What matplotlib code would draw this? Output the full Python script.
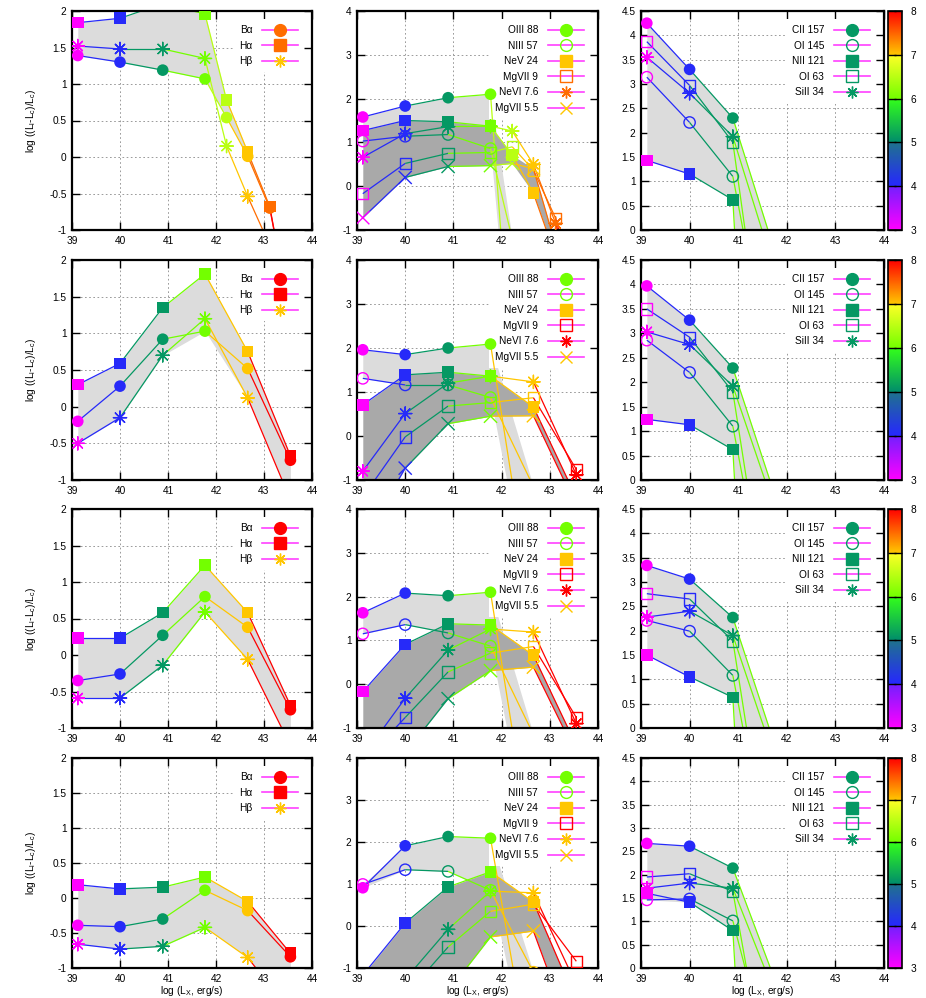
import numpy as np
import matplotlib
matplotlib.use('Agg')
import matplotlib.pyplot as plt
from matplotlib.collections import LineCollection
from matplotlib.colors import LinearSegmentedColormap, Normalize
from matplotlib.cm import ScalarMappable
from matplotlib.lines import Line2D

plt.rcParams['font.family'] = ['Liberation Sans', 'DejaVu Sans']
plt.rcParams['mathtext.default'] = 'regular'
plt.rcParams['axes.unicode_minus'] = False

# x positions (log Lx) and the colour value of each model point
x_r1 = [39.12, 40.0, 40.89, 41.77, 42.22, 42.66, 43.12, 43.55]
cb_r1 = [3.0, 4.05, 5.1, 6.0, 6.5, 7.0, 7.45, 8.0]
x_rest = [39.12, 40.0, 40.89, 41.77, 42.66, 43.55]
cb_rest = [3.0, 4.05, 5.1, 6.0, 7.0, 8.0]
x_fir = [39.12, 40.0, 40.89, 41.77]
cb_fir = [3.0, 4.05, 5.1, 6.0]

hyd_labels = ['B\u03b1', 'H\u03b1', 'H\u03b2']
mid_labels = ['OIII 88', 'NIII 57', 'NeV 24', 'MgVII 9', 'NeVI 7.6', 'MgVII 5.5']
fir_labels = ['CII 157', 'OI 145', 'NII 121', 'OI 63', 'SiII 34']

# hydrogen lines (Ba, Ha, Hb)
hyd_1 = [[1.39, 1.30, 1.19, 1.07, 0.54, 0.01, -0.70, -2.2],
         [1.84, 1.90, 2.10, 1.96, 0.78, 0.07, -0.68, -2.2],
         [1.52, 1.48, 1.48, 1.35, 0.15, -0.54, -1.21, -2.5]]
hyd_2 = [[-0.20, 0.28, 0.92, 1.03, 0.52, -0.73],
         [0.30, 0.59, 1.35, 1.81, 0.75, -0.67],
         [-0.50, -0.15, 0.70, 1.20, 0.12, -1.27]]
hyd_3 = [[-0.35, -0.26, 0.27, 0.80, 0.38, -0.75],
         [0.23, 0.23, 0.58, 1.23, 0.58, -0.69],
         [-0.59, -0.59, -0.14, 0.59, -0.06, -1.24]]
hyd_4 = [[-0.39, -0.41, -0.30, 0.11, -0.18, -0.84],
         [0.19, 0.13, 0.155, 0.30, -0.05, -0.79],
         [-0.66, -0.73, -0.69, -0.42, -0.85, -1.63]]

# mid-IR lines
mid_1 = [[1.58, 1.83, 2.02, 2.10, -4.5, -6.0, -7.0, -8.0],
         [1.03, 1.14, 1.18, 0.86, -1.2, -2.5, -3.5, -4.5],
         [1.27, 1.50, 1.47, 1.37, 0.71, -0.16, -1.6, -2.5],
         [-0.17, 0.52, 0.75, 0.77, 0.90, 0.37, -0.73, -2.5],
         [0.66, 1.20, 1.36, 1.37, 1.26, 0.50, -0.85, -2.5],
         [-0.72, 0.20, 0.45, 0.47, 0.52, 0.40, -1.35, -2.5]]
mid_2 = [[1.96, 1.85, 2.00, 2.09, -4.1, -6.0],
         [1.31, 1.16, 1.16, 0.875, -1.15, -3.0],
         [0.71, 1.39, 1.45, 1.36, 0.66, -1.4],
         [-1.39, -0.02, 0.68, 0.76, 0.87, -0.76],
         [-0.80, 0.51, 1.20, 1.36, 1.23, -0.88],
         [-2.4, -0.73, 0.28, 0.45, 0.46, -1.6]]
mid_3 = [[1.63, 2.08, 2.02, 2.10, -4.1, -6.0],
         [1.15, 1.36, 1.17, 0.87, -1.15, -3.0],
         [-0.17, 0.91, 1.38, 1.35, 0.66, -1.4],
         [-1.8, -0.76, 0.28, 0.71, 0.86, -0.76],
         [-1.65, -0.32, 0.78, 1.26, 1.19, -0.90],
         [-2.8, -1.57, -0.33, 0.31, 0.39, -1.6]]
mid_4 = [[0.91, 1.91, 2.13, 2.09, -3.8, -6.0],
         [0.99, 1.34, 1.30, 0.85, -1.1, -3.0],
         [-1.17, 0.07, 0.93, 1.29, 0.57, -1.8],
         [-3.0, -1.66, -0.50, 0.35, 0.52, -0.84],
         [-2.5, -1.27, -0.08, 0.83, 0.79, -1.4],
         [-4.0, -2.9, -1.56, -0.26, -0.12, -2.9]]

# far-IR lines
fir_1 = [[4.25, 3.30, 2.30, -0.5],
         [3.14, 2.21, 1.10, -3.5],
         [1.43, 1.15, 0.62, -15.0],
         [3.87, 2.97, 1.80, -4.5],
         [3.55, 2.81, 1.92, -0.9]]
fir_2 = [[3.97, 3.27, 2.29, -0.36],
         [2.86, 2.20, 1.10, -3.5],
         [1.24, 1.13, 0.62, -15.0],
         [3.50, 2.92, 1.80, -3.8],
         [3.03, 2.77, 1.92, -0.64]]
fir_3 = [[3.34, 3.06, 2.27, -0.4],
         [2.21, 1.99, 1.08, -3.5],
         [1.50, 1.05, 0.63, -15.0],
         [2.76, 2.65, 1.79, -3.8],
         [2.28, 2.40, 1.90, -0.7]]
fir_4 = [[2.67, 2.61, 2.14, -0.3],
         [1.46, 1.48, 1.01, -2.5],
         [1.60, 1.41, 0.80, -15.0],
         [1.95, 2.02, 1.64, -3.5],
         [1.71, 1.82, 1.71, -0.6]]

cmap = LinearSegmentedColormap.from_list('gp', [
    (0.0, (1.0, 0.0, 1.0)),
    (0.1999, (0.45, 0.12, 1.0)),
    (0.2, (0.15, 0.15, 1.0)),
    (0.3999, (0.12, 0.45, 0.55)),
    (0.4, (0.0, 0.55, 0.42)),
    (0.5999, (0.2, 1.0, 0.1)),
    (0.6, (0.45, 1.0, 0.0)),
    (0.7999, (1.0, 1.0, 0.15)),
    (0.8, (1.0, 0.78, 0.0)),
    (1.0, (1.0, 0.0, 0.0))], N=1024)
norm = Normalize(3, 8)

ASTER = (8, 2, 0)
hyd_marks = [('o', True), ('s', True), (ASTER, True)]
mid_marks = [('o', True), ('o', False), ('s', True), ('s', False), (ASTER, True), ('x', True)]
fir_marks = [('o', True), ('o', False), ('s', True), ('s', False), (ASTER, True)]

FS = 7.3
W, H = 926, 998


def draw_panel(ax, xs, cb, series, labels, marks, light, dark, ylim, yticks):
    xs = np.array(xs)
    cols = cmap(norm(np.array(cb)))
    data = np.array(series, dtype=float)
    if light:
        sub = data[light]
        ax.fill_between(xs, sub.min(0), sub.max(0), color='#dcdcdc', lw=0, zorder=1)
    if dark:
        sub = data[dark]
        ax.fill_between(xs, sub.min(0), sub.max(0), color='#a9a9a9', lw=0, zorder=1.1)
    handles = []
    for ys, lab, (m, filled) in zip(data, labels, marks):
        pts = np.column_stack([xs, ys])
        segs = np.stack([pts[:-1], pts[1:]], axis=1)
        ax.add_collection(LineCollection(segs, colors=cols[1:], lw=0.9, zorder=2))
        if m in ('o', 's'):
            if filled:
                ax.scatter(xs, ys, s=70, marker=m, c=cols, linewidths=0, zorder=3)
            else:
                ax.scatter(xs, ys, s=66, marker=m, facecolors='none', edgecolors=cols,
                           linewidths=1.0, zorder=3)
        else:
            ax.scatter(xs, ys, s=90, marker=m, c=cols, linewidths=1.0, zorder=3)
        # key point takes the colour of the last point inside the plot
        inside = [i for i, y in enumerate(ys) if ylim[0] <= y <= ylim[1]]
        kc = cols[inside[-1]]
        handles.append(Line2D([], [], color='#ff40ff', lw=1.2, marker=m, ms=8.5,
                              mfc=kc if (filled and m in ('o', 's')) else 'none',
                              mec=kc, mew=1.0, label=lab))
    ax.set_xlim(39, 44)
    ax.set_ylim(*ylim)
    ax.set_xticks(range(39, 45))
    ax.set_yticks(yticks)
    ax.set_yticklabels(['%g' % v for v in yticks])
    ax.tick_params(direction='in', length=6, width=1, top=True, right=True,
                   labelsize=FS, pad=4)
    ax.grid(True, color='#8a8a8a', ls=(0, (2, 3)), lw=0.6)
    ax.set_axisbelow(True)
    for sp in ax.spines.values():
        sp.set_linewidth(1.6)
    leg = ax.legend(handles=handles, loc='upper right', bbox_to_anchor=(1.0, 1.0),
                    markerfirst=False, frameon=True, fancybox=False, framealpha=1,
                    fontsize=FS, handlelength=3.5, handletextpad=1.0,
                    labelspacing=0.55, borderpad=0.6, borderaxespad=0.8)
    leg.get_frame().set_edgecolor('none')
    # key box hides the grid but stays under the data
    leg.set_zorder(1.5)


fig = plt.figure(figsize=(W / 100, H / 100), dpi=100)

cols_px = [(72, 312), (357, 598), (641, 884)]
rows_px = [(11, 230), (260, 480), (509, 728), (758, 968)]

hyd = [hyd_1, hyd_2, hyd_3, hyd_4]
mid = [mid_1, mid_2, mid_3, mid_4]
fir = [fir_1, fir_2, fir_3, fir_4]

for r, (t, b) in enumerate(rows_px):
    axs = []
    for (l, rr) in cols_px:
        axs.append(fig.add_axes([l / W, 1 - b / H, (rr - l) / W, (b - t) / H]))
    xs, cb = (x_r1, cb_r1) if r == 0 else (x_rest, cb_rest)
    draw_panel(axs[0], xs, cb, hyd[r], hyd_labels, hyd_marks,
               [0, 1] if r == 0 else [0, 1, 2], None,
               (-1, 2), [-1, -0.5, 0, 0.5, 1, 1.5, 2])
    draw_panel(axs[1], xs, cb, mid[r], mid_labels, mid_marks,
               [0, 1], [2, 5], (-1, 4), [-1, 0, 1, 2, 3, 4])
    draw_panel(axs[2], x_fir, cb_fir, fir[r], fir_labels, fir_marks,
               [0, 1, 2, 3, 4], None, (0, 4.5),
               [0, 0.5, 1, 1.5, 2, 2.5, 3, 3.5, 4, 4.5])
    axs[0].set_ylabel('log ((L$_l$-L$_c$)/L$_c$)', fontsize=FS, labelpad=8)
    if r == 3:
        for a in axs:
            a.set_xlabel('log (L$_X$, erg/s)', fontsize=FS, labelpad=0)

    cax = fig.add_axes([888 / W, 1 - b / H, 14 / W, (b - t) / H])
    cbar = fig.colorbar(ScalarMappable(norm=norm, cmap=cmap), cax=cax)
    cbar.set_ticks(range(3, 9))
    cax.tick_params(direction='in', length=6, width=1, left=True, right=True,
                    labelsize=FS, pad=6)
    cbar.outline.set_linewidth(1.2)

fig.savefig('out.png', dpi=100)
